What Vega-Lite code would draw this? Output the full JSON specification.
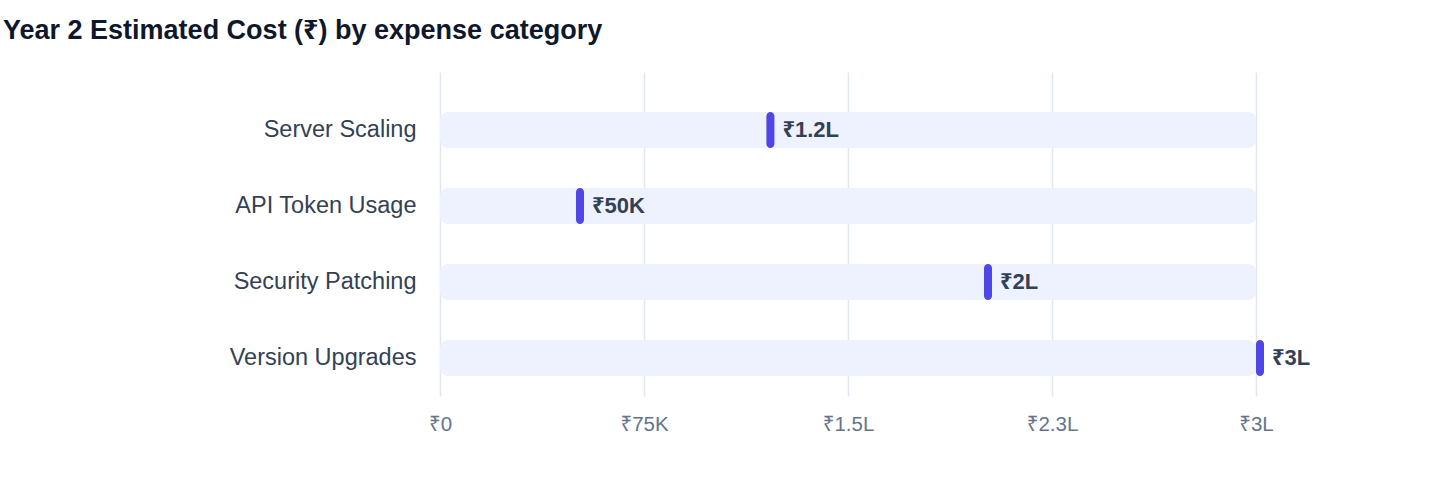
{
  "$schema": "https://vega.github.io/schema/vega-lite/v6.json",
  "width": 816,
  "height": 324,
  "autosize": {"type": "none"},
  "padding": {"left": 440, "top": 72, "right": 184, "bottom": 88},
  "background": "white",
  "title": {
    "text": "Year 2 Estimated Cost (₹) by expense category",
    "anchor": "start",
    "frame": "group",
    "dx": -437,
    "offset": 6,
    "baseline": "alphabetic",
    "fontSize": 27,
    "fontWeight": "bold",
    "color": "#0f172a",
    "font": "Liberation Sans, Noto Sans, sans-serif"
  },
  "data": {
    "values": [
      {"category": "Server Scaling", "cost": 120000, "label": "₹1.2L"},
      {"category": "API Token Usage", "cost": 50000, "label": "₹50K"},
      {"category": "Security Patching", "cost": 200000, "label": "₹2L"},
      {"category": "Version Upgrades", "cost": 300000, "label": "₹3L"}
    ]
  },
  "encoding": {
    "y": {
      "field": "category",
      "type": "nominal",
      "sort": null,
      "title": null,
      "scale": {"paddingInner": 0.526, "paddingOuter": 0.395, "align": 0.667},
      "axis": {
        "domain": false,
        "ticks": false,
        "grid": false,
        "labelFontSize": 23.5,
        "labelColor": "#334155",
        "labelPadding": 24,
        "labelLimit": 0,
        "labelFont": "Liberation Sans, Noto Sans, sans-serif"
      }
    }
  },
  "layer": [
    {
      "mark": {"type": "bar", "color": "#eef2ff", "cornerRadius": 8},
      "encoding": {
        "x": {
          "datum": 300000,
          "type": "quantitative",
          "title": null,
          "scale": {"domain": [0, 300000], "nice": false},
          "axis": {
            "values": [0, 75000, 150000, 225000, 300000],
            "labelExpr": "datum.value >= 100000 ? '₹' + format(datum.value / 100000, '.1~f') + 'L' : datum.value >= 1000 ? '₹' + format(datum.value / 1000, '~d') + 'K' : '₹0'",
            "domain": false,
            "ticks": false,
            "grid": true,
            "gridColor": "#e2e8f0",
            "gridWidth": 1.5,
            "labelFlush": false,
            "labelFontSize": 20.5,
            "labelColor": "#64748b",
            "labelPadding": 18,
            "labelFont": "Liberation Sans, Noto Sans, sans-serif"
          }
        }
      }
    },
    {
      "mark": {"type": "tick", "color": "#4f46e5", "thickness": 8, "size": 36, "cornerRadius": 4, "xOffset": 4, "opacity": 1},
      "encoding": {
        "x": {"field": "cost", "type": "quantitative", "title": null}
      }
    },
    {
      "mark": {"type": "text", "align": "left", "baseline": "middle", "dx": 16, "fontSize": 22, "fontWeight": "bold", "color": "#334155", "font": "Liberation Sans, Noto Sans, sans-serif"},
      "encoding": {
        "x": {"field": "cost", "type": "quantitative", "title": null},
        "text": {"field": "label"}
      }
    }
  ],
  "config": {
    "view": {"stroke": null}
  }
}
